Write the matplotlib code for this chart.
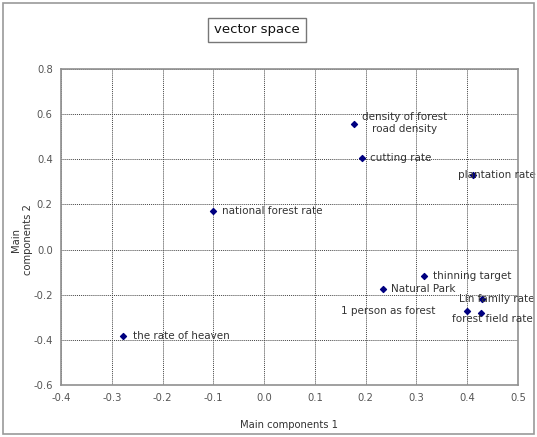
import matplotlib.pyplot as plt
from matplotlib.patches import Rectangle

# principal component scores
labels = ['density of forest\nroad density', 'cutting rate', 'plantation rate',
          'national forest rate', 'the rate of heaven', 'thinning target',
          'Natural Park', 'Lin family rate', '1 person as forest',
          'forest field rate']
pc1 = [0.177, 0.193, 0.411, -0.101, -0.278, 0.315, 0.234, 0.429, 0.400, 0.427]
pc2 = [0.556, 0.406, 0.330, 0.171, -0.383, -0.117, -0.175, -0.219, -0.272, -0.281]

xticks = [-0.4, -0.3, -0.2, -0.1, 0.0, 0.1, 0.2, 0.3, 0.4, 0.5]
yticks = [-0.6, -0.4, -0.2, 0.0, 0.2, 0.4, 0.6, 0.8]

# label placement (pixel offset, horizontal alignment), Excel-style data labels
offsets = [(51, 1, 'center'), (8, 0, 'left'), (24, 0, 'center'),
           (9, 0, 'left'), (10, 0, 'left'), (9, 0, 'left'),
           (8, 0, 'left'), (15, 0, 'center'), (-32, 0, 'right'),
           (11, -6, 'center')]

plt.rcParams['font.family'] = ['DejaVu Sans']

fig = plt.figure(figsize=(5.37, 4.37), dpi=100)
ax = fig.add_axes([61 / 537, 1 - 385 / 437, 457 / 537, 316 / 437])

ax.scatter(pc1, pc2, marker='D', s=9, color='#000080', zorder=3)
for name, x, y, (dx, dy, ha) in zip(labels, pc1, pc2, offsets):
    ax.annotate(name, (x, y), xytext=(dx, dy), textcoords='offset pixels',
                ha=ha, va='center', fontsize=7.5, color='#333333',
                linespacing=1.25, annotation_clip=False, zorder=4)

ax.set_xlim(-0.4, 0.5)
ax.set_ylim(-0.6, 0.8)
ax.set_xticks(xticks)
ax.set_yticks(yticks)
ax.set_xticklabels([f'{v:.1f}' for v in xticks])
ax.set_yticklabels([f'{v:.1f}' for v in yticks])
ax.tick_params(length=0, labelsize=7.2, labelcolor='#555555', pad=6)
ax.grid(True, color='#444444', linestyle=(0, (1, 1)), linewidth=0.7)
ax.set_axisbelow(True)
for sp in ax.spines.values():
    sp.set_color('#909090')
    sp.set_linewidth(1.2)

ax.set_xlabel('Main components 1', fontsize=7.2, color='#333333', labelpad=12)
fig.text(22 / 537, 1 - 240 / 437, 'Main\ncomponents 2', rotation=90,
         ha='center', va='center', fontsize=7.2, color='#333333', linespacing=1.2)

fig.text(257 / 537, 1 - 30 / 437, 'vector space', ha='center', va='center',
         fontsize=9.5, color='#111111',
         bbox=dict(boxstyle='square,pad=0.45', facecolor='white',
                   edgecolor='#777777', linewidth=1))

# outer chart border
fig.patches.append(Rectangle((3 / 537, 3 / 437), 531 / 537, 431 / 437,
                             transform=fig.transFigure, fill=False,
                             edgecolor='#999999', linewidth=1.2))

fig.savefig('out.png', dpi=100)
